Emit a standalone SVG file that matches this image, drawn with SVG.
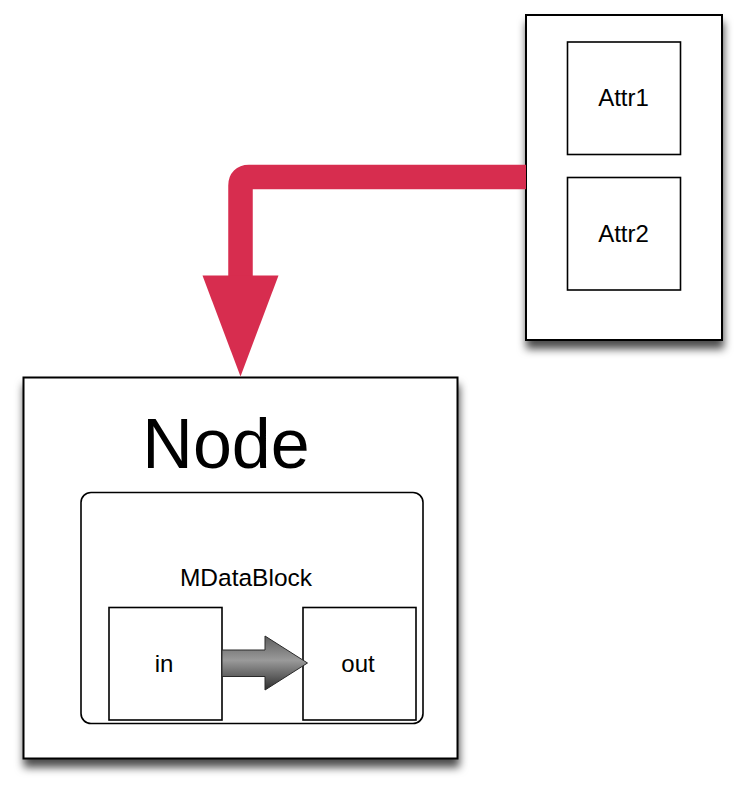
<svg xmlns="http://www.w3.org/2000/svg" width="743" height="789" viewBox="0 0 743 789">
<style>
.box{fill:#fff;stroke:#000;stroke-width:2}
.inner{fill:#fff;stroke:#000;stroke-width:1.6}
.t{font-family:"Liberation Sans",Arial,sans-serif;fill:#000;text-anchor:middle}
</style>
<defs>
<filter id="sh" x="-20%" y="-20%" width="140%" height="140%">
<feDropShadow dx="1" dy="8" stdDeviation="4.5" flood-color="#000" flood-opacity="0.7"/>
</filter>
<linearGradient id="gg" x1="0" y1="0" x2="0" y2="1">
<stop offset="0" stop-color="#5e5e5e"/>
<stop offset="0.45" stop-color="#9a9a9a"/>
<stop offset="1" stop-color="#2e2e2e"/>
</linearGradient>
</defs>
<g id="attrs">
<rect class="box" x="526" y="15" width="196" height="325" filter="url(#sh)"/>
<g id="attr1">
<rect class="inner" x="567.5" y="42" width="113" height="112.5"/>
<text class="t" x="623.5" y="106" font-size="24">Attr1</text>
</g>
<g id="attr2">
<rect class="inner" x="567.5" y="177.5" width="113" height="112.5"/>
<text class="t" x="623.5" y="242" font-size="24">Attr2</text>
</g>
</g>
<g id="node">
<rect class="box" x="23.5" y="377.5" width="434" height="381" filter="url(#sh)"/>
<text class="t" x="226" y="468" font-size="70">Node</text>
<g id="mdatablock">
<rect class="inner" x="81" y="492.5" width="342" height="231" rx="10" ry="10"/>
<text class="t" x="246" y="585.5" font-size="24.5">MDataBlock</text>
<g id="in">
<rect class="inner" x="109" y="607.5" width="113" height="112.5"/>
<text class="t" x="164" y="672" font-size="24">in</text>
</g>
<g id="out">
<rect class="inner" x="303" y="607.5" width="113" height="112.5"/>
<text class="t" x="358" y="672" font-size="24">out</text>
</g>
</g>
</g>
<g id="connectors">
<path d="M526 177 H249 Q240.5 177 240.5 185.5 V277" fill="none" stroke="#d72d4f" stroke-width="24.5"/>
<polygon points="202.5,275.5 278.5,275.5 240.5,376.5" fill="#d72d4f"/>
<polygon points="222,650 265,650 265,636 307.5,663 265,690 265,676.5 222,676.5" fill="url(#gg)" stroke="#2a2a2a" stroke-width="1"/>
</g>
</svg>
